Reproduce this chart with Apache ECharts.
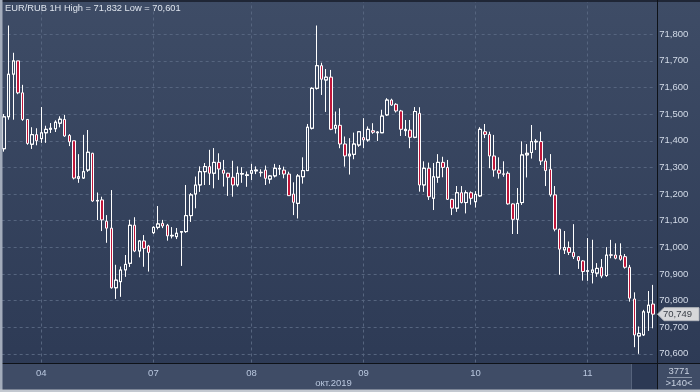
<!DOCTYPE html>
<html><head><meta charset="utf-8">
<script src="https://cdn.jsdelivr.net/npm/echarts@6/dist/echarts.min.js"></script>
<style>html,body{margin:0;padding:0;background:#2c3954;}#c{width:700px;height:392px;background:linear-gradient(#3e4c66,#2c3954);}</style>
</head><body><div id="c"></div>
<script>
const openP = [71.37,71.49,71.65,71.70,71.58,71.48,71.387,71.423,71.408,71.43,
71.443,71.445,71.466,71.48,71.42,71.40,71.259,71.26,71.29,71.353,
71.174,71.178,71.098,71.072,70.848,70.871,70.915,70.94,71.083,70.986,
71.024,71.005,71.055,71.075,71.09,71.083,71.043,71.04,71.057,71.059,
71.119,71.20,71.234,71.284,71.303,71.278,71.319,71.29,71.278,71.263,
71.234,71.275,71.27,71.278,71.287,71.282,71.29,71.256,71.268,71.294,
71.29,71.275,71.20,71.165,71.265,71.288,71.447,71.597,71.682,71.628,
71.639,71.447,71.458,71.388,71.343,71.349,71.384,71.412,71.403,71.438,
71.43,71.43,71.497,71.553,71.537,71.512,71.438,71.44,71.413,71.503,
71.234,71.297,71.184,71.263,71.319,71.30,71.18,71.147,71.205,71.168,
71.205,71.171,71.193,71.434,71.424,71.343,71.29,71.276,71.278,71.163,
71.105,71.168,71.347,71.356,71.396,71.397,71.324,71.293,71.197,71.068,
70.99,70.999,70.981,70.965,70.949,70.91,70.906,70.903,70.925,70.894,
70.972,70.971,70.969,70.965,70.925,70.806,70.667,70.671,70.756,70.787];
const closeP = [71.49,71.65,71.70,71.58,71.48,71.39,71.423,71.40,71.43,71.443,
71.447,71.47,71.481,71.418,71.396,71.26,71.265,71.284,71.357,71.174,
71.176,71.103,71.072,70.848,70.877,70.915,70.936,71.083,70.986,71.024,
70.996,70.981,71.075,71.088,71.08,71.043,71.045,71.053,71.059,71.119,
71.197,71.234,71.284,71.303,71.278,71.319,71.294,71.278,71.263,71.234,
71.278,71.277,71.272,71.288,71.29,71.28,71.259,71.268,71.297,71.296,
71.275,71.194,71.169,71.268,71.288,71.451,71.597,71.682,71.631,71.639,
71.443,71.458,71.388,71.343,71.35,71.388,71.434,71.403,71.443,71.432,
71.433,71.493,71.553,71.534,71.512,71.443,71.443,71.413,71.51,71.234,
71.297,71.19,71.265,71.319,71.30,71.18,71.147,71.205,71.168,71.205,
71.184,71.199,71.443,71.424,71.343,71.29,71.278,71.274,71.163,71.105,
71.165,71.347,71.353,71.397,71.398,71.324,71.288,71.197,71.068,70.993,
70.999,70.981,70.965,70.95,70.909,70.912,70.915,70.921,70.892,70.971,
70.970,70.959,70.955,70.925,70.809,70.671,70.677,70.758,70.783,70.749];
const lowP = [71.36,71.48,71.48,71.575,71.475,71.385,71.37,71.383,71.393,71.393,
71.43,71.433,71.451,71.415,71.38,71.255,71.243,71.257,71.284,71.171,
71.103,71.061,71.017,70.845,70.807,70.815,70.89,70.927,70.982,70.963,
70.927,70.909,71.05,71.068,71.072,71.025,71.034,71.031,70.931,71.055,
71.096,71.147,71.209,71.234,71.234,71.222,71.253,71.228,71.193,71.19,
71.228,71.243,71.228,71.253,71.275,71.265,71.234,71.24,71.263,71.272,
71.259,71.193,71.121,71.109,71.24,71.287,71.443,71.593,71.572,71.509,
71.44,71.428,71.372,71.303,71.274,71.331,71.378,71.372,71.397,71.426,
71.40,71.429,71.493,71.531,71.506,71.418,71.418,71.372,71.41,71.209,
71.209,71.178,71.14,71.243,71.263,71.178,71.121,71.134,71.165,71.128,
71.16,71.15,71.19,71.41,71.297,71.265,71.258,71.265,71.16,71.05,
71.05,71.16,71.263,71.334,71.366,71.309,71.23,71.19,71.06,70.897,
70.975,70.971,70.956,70.919,70.875,70.875,70.865,70.89,70.884,70.89,
70.959,70.955,70.95,70.92,70.796,70.625,70.601,70.668,70.687,70.696];
const highP = [71.50,71.832,71.73,71.70,71.61,71.48,71.45,71.447,71.526,71.456,
71.466,71.476,71.491,71.497,71.425,71.40,71.349,71.422,71.44,71.355,
71.205,71.19,71.121,71.215,70.934,70.927,70.971,71.103,71.113,71.026,
71.046,71.009,71.078,71.155,71.103,71.088,71.075,71.072,71.06,71.234,
71.203,71.265,71.303,71.316,71.366,71.372,71.353,71.328,71.28,71.325,
71.303,71.30,71.284,71.313,71.303,71.293,71.307,71.27,71.313,71.309,
71.303,71.284,71.244,71.275,71.337,71.463,71.60,71.832,71.693,71.669,
71.666,71.509,71.522,71.416,71.409,71.43,71.436,71.485,71.453,71.466,
71.435,71.516,71.559,71.558,71.541,71.516,71.478,71.478,71.526,71.526,
71.322,71.318,71.316,71.349,71.34,71.328,71.182,71.23,71.23,71.213,
71.21,71.21,71.45,71.463,71.434,71.422,71.338,71.323,71.285,71.165,
71.222,71.397,71.387,71.459,71.406,71.434,71.334,71.35,71.23,71.07,
71.061,71.022,71.087,70.967,70.952,71.034,71.028,70.94,70.956,71.0,
71.028,71.015,71.015,70.975,70.934,70.831,70.702,70.765,70.836,70.859];
const dayStarts = [8, 32, 53, 77, 101, 125];
const dayLabels = ['04', '07', '08', '09', '10', '11'];
const yTicks = [70.6, 70.7, 70.8, 70.9, 71.0, 71.1, 71.2, 71.3, 71.4, 71.5, 71.6, 71.7, 71.8];
const titleText = 'EUR/RUB 1H High = 71,832 Low = 70,601';
const monthLabel = 'окт.2019';
const barsTotal = '3771';
const barsVisible = '>140<';

const FONT = '"Liberation Sans", Arial, sans-serif';
const categories = openP.map((_, i) => String(i));
const ohlc = openP.map((o, i) => [o, closeP[i], lowP[i], highP[i]]);
const fmt = v => v.toFixed(3).replace('.', ',');
const dash = { color: '#56657f', type: [3, 3], width: 1 };

const chart = echarts.init(document.getElementById('c'), null, { renderer: 'canvas' });
const hollow = new echarts.graphic.LinearGradient(0, 0, 0, 392,
  [{ offset: 0, color: '#3e4c66' }, { offset: 1, color: '#2c3954' }], true);

chart.setOption({
  backgroundColor: 'transparent',
  animation: false,
  grid: { left: 1.67, right: 44.7, top: 2, bottom: 11.5 },
  xAxis: {
    type: 'category', data: categories, boundaryGap: true, offset: -17.5, z: 150,
    axisLine: { show: false }, axisTick: { show: false }, splitLine: { show: false },
    axisLabel: {
      interval: (idx) => dayStarts.indexOf(idx) >= 0,
      formatter: (val, idx) => { const k = dayStarts.indexOf(idx); return k >= 0 ? dayLabels[k] : ''; },
      color: '#b9c7de', fontSize: 9.5, fontFamily: FONT, margin: 5
    }
  },
  yAxis: {
    type: 'value', position: 'right', min: 70.5, max: 71.921, interval: 0.1, scale: true, z: 150,
    axisLine: { show: false }, axisTick: { show: false }, splitLine: { show: false },
    axisLabel: {
      color: '#d3dbe8', fontSize: 9.5, fontFamily: FONT, margin: 4,
      showMinLabel: false, showMaxLabel: false,
      formatter: v => yTicks.some(t => Math.abs(t - v) < 1e-6) ? fmt(v) : ''
    }
  },
  series: [{
    type: 'candlestick', data: ohlc, barWidth: 3, z: 2,
    itemStyle: { color: hollow, color0: '#c0163a', borderColor: '#ffffff', borderColor0: '#ffffff', borderWidth: 1 },
    markLine: {
      silent: true, symbol: ['none', 'none'], z: 1, animation: false,
      label: { show: false }, lineStyle: dash, emphasis: { disabled: true },
      data: yTicks.map(v => ({ yAxis: v })).concat(dayStarts.map(i => ({ xAxis: i })))
    }
  }]
});

const lastY = chart.convertToPixel({ yAxisIndex: 0 }, closeP[closeP.length - 1]);
const T = (text, x, y, fill, align, size) => ({
  type: 'text', z: 120,
  style: { text, x, y, fill, font: (size || 9.5) + 'px ' + FONT, align, verticalAlign: 'middle', textAlign: align, textVerticalAlign: 'middle' }
});

chart.setOption({
  graphic: [
    { type: 'rect', z: 100, shape: { x: 0, y: 0, width: 700, height: 2 }, style: { fill: '#1f2636' } },
    { type: 'rect', z: 100, shape: { x: 2, y: 363.5, width: 698, height: 26 }, style: { fill: '#3f4c66' } },
    { type: 'rect', z: 101, shape: { x: 631, y: 364, width: 26, height: 25.5 }, style: { fill: '#2c3954' } },
    { type: 'line', z: 102, shape: { x1: 631.5, y1: 364, x2: 631.5, y2: 389.5 }, style: { stroke: '#56637c', lineWidth: 1 } },
    { type: 'line', z: 103, shape: { x1: 0, y1: 363.5, x2: 700, y2: 363.5 }, style: { stroke: '#0e1218', lineWidth: 1 } },
    { type: 'line', z: 103, shape: { x1: 657.5, y1: 0, x2: 657.5, y2: 392 }, style: { stroke: '#0e1218', lineWidth: 1 } },
    { type: 'rect', z: 104, shape: { x: 0, y: 0, width: 2.5, height: 392 }, style: { fill: '#a3acbb' } },
    { type: 'rect', z: 104, shape: { x: 0, y: 389.5, width: 700, height: 2.5 }, style: { fill: '#c3c8d0' } },
    T(titleText, 5, 8.5, '#dfe5ee', 'left', 9.3),
    T(monthLabel, 333.5, 383.5, '#b9c7de', 'center'),
    T(barsTotal, 679, 371, '#c8d1e0', 'center'),
    { type: 'line', z: 110, shape: { x1: 667, y1: 377.5, x2: 692, y2: 377.5 }, style: { stroke: '#8c97aa', lineWidth: 1 } },
    T(barsVisible, 679, 383.5, '#c8d1e0', 'center'),
    { type: 'polygon', z: 115, shape: { points: [[657.5, lastY], [664, lastY - 6.5], [699, lastY - 6.5], [699, lastY + 6.5], [664, lastY + 6.5]] },
      style: { fill: '#d6d7da', stroke: '#b5b8be', lineWidth: 1 } },
    T(fmt(closeP[closeP.length - 1]), 663, lastY, '#3a3f48', 'left')
  ]
});
</script></body></html>
